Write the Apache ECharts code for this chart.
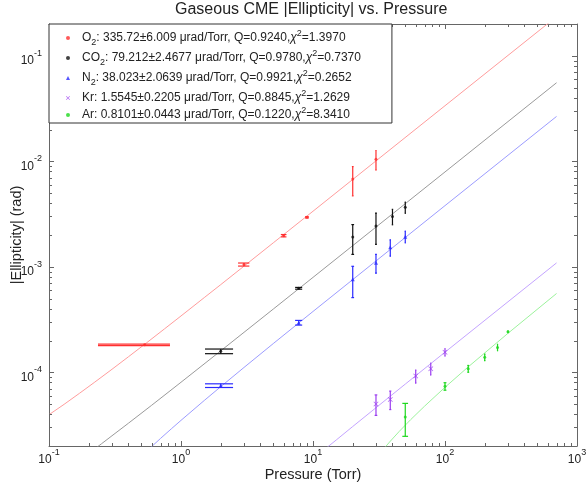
<!DOCTYPE html>
<html><head><meta charset="utf-8">
<script src="https://cdn.jsdelivr.net/npm/echarts@6/dist/echarts.min.js"></script>
<style>html,body{margin:0;padding:0;background:#fff}#c{width:587px;height:488px}</style>
</head><body><div id="c"></div>
<script>
// ---- series names ----
const seriesNames = ['O2', 'CO2', 'N2', 'Kr', 'Ar'];

// ---- tick label values ----
const xTickValues = [0.1, 1, 10, 100, 1000];
const yTickValues = [1e-4, 1e-3, 1e-2, 1e-1];

// ---- measured points (x = pressure Torr, y = |ellipticity| rad, err = y error) ----
const o2X   = [0.53, 3, 6, 9, 20, 30];
const o2Y   = [1.82e-4, 1.05e-3, 1.97e-3, 2.94e-3, 6.8e-3, 1.045e-2];
const o2Err = [3e-6, 3.5e-5, 5e-5, 4e-5, 2.1e-3, 2.2e-3];

const co2X   = [2, 7.8, 20, 30, 40, 50];
const co2Y   = [1.58e-4, 6.25e-4, 1.91e-3, 2.43e-3, 3.0e-3, 3.66e-3];
const co2Err = [8e-6, 1.2e-5, 6e-4, 8e-4, 5e-4, 4.5e-4];

const n2X   = [2, 7.8, 20, 30, 38.5, 50];
const n2Y   = [7.47e-5, 2.95e-4, 7.6e-4, 1.09e-3, 1.53e-3, 1.93e-3];
const n2Err = [3e-6, 1.5e-5, 2.5e-4, 2.2e-4, 2.7e-4, 2.5e-4];

const krX   = [30, 38.5, 60, 78, 100];
const krY   = [5.0e-5, 5.53e-5, 9.2e-5, 1.08e-4, 1.55e-4];
const krErr = [1.1e-5, 1.1e-5, 1.3e-5, 1.4e-5, 1.3e-5];

const arX   = [50, 100, 150, 200, 250, 300];
const arY   = [3.77e-5, 7.36e-5, 1.08e-4, 1.39e-4, 1.72e-4, 2.42e-4];
const arErr = [1.3e-5, 6e-6, 8e-6, 1e-5, 1.2e-5, 5e-6];

// error-bar cap half widths (Torr), one per series
const capHalf = [0.295, 0.48, 0.48, 0.7, 2.5];

// ---- fit lines ----
const o2FitX = [0.1, 0.13, 0.17, 0.22, 0.3, 0.4, 0.55, 0.75, 1, 1.5, 2, 3, 5, 10, 30, 100, 700];
const o2FitY = [3.96e-5, 4.96e-5, 6.31e-5, 7.99e-5, 1.067e-4, 1.403e-4, 1.906e-4, 2.578e-4, 3.417e-4, 5.1e-4, 6.77e-4, 1.013e-3, 1.685e-3, 3.36e-3, 1.008e-2, 3.36e-2, 0.235];
const co2FitX = [0.2, 0.25, 0.3, 0.4, 0.6, 1, 2, 5, 10, 100, 700];
const co2FitY = [1.70e-5, 2.10e-5, 2.50e-5, 3.29e-5, 4.87e-5, 8.04e-5, 1.596e-4, 3.97e-4, 7.93e-4, 7.92e-3, 5.55e-2];
const n2FitX = [0.55, 0.7, 0.85, 1, 1.5, 2, 3, 5, 10, 100, 700];
const n2FitY = [1.79e-5, 2.36e-5, 2.93e-5, 3.5e-5, 5.4e-5, 7.3e-5, 1.11e-4, 1.87e-4, 3.77e-4, 3.797e-3, 2.66e-2];
const krFitX = [12, 15, 20, 30, 50, 100, 700];
const krFitY = [1.82e-5, 2.28e-5, 3.06e-5, 4.61e-5, 7.72e-5, 1.55e-4, 1.088e-3];
const arFitX = [34, 38, 45, 55, 70, 100, 150, 300, 700];
const arFitY = [1.85e-5, 2.18e-5, 2.75e-5, 3.56e-5, 4.77e-5, 7.2e-5, 1.125e-4, 2.34e-4, 5.58e-4];

// ---- legend texts ----
const legendTexts = {
  O2:  '{t|O}{sub|2}{t|: 335.72±6.009 μrad/Torr, Q=0.9240,}{chi|χ}{sup|2}{t|=1.3970}',
  CO2: '{t|CO}{sub|2}{t|: 79.212±2.4677 μrad/Torr, Q=0.9780,}{chi|χ}{sup|2}{t|=0.7370}',
  N2:  '{t|N}{sub|2}{t|: 38.023±2.0639 μrad/Torr, Q=0.9921,}{chi|χ}{sup|2}{t|=0.2652}',
  Kr:  '{t|Kr: 1.5545±0.2205 μrad/Torr, Q=0.8845,}{chi|χ}{sup|2}{t|=1.2629}',
  Ar:  '{t|Ar: 0.8101±0.0443 μrad/Torr, Q=0.1220,}{chi|χ}{sup|2}{t|=8.3410}'
};

// ---- axis ranges ----
const xMin = 0.1, xMax = 1000, yMin = 2e-5, yMax = 0.2;

// ---- styles ----
const pointColors = ['#ff3030', '#111111', '#2a2aff', '#9a3cf0', '#1ed81e'];
const lineColors  = ['#ff9c9c', '#9a9a9a', '#9c9cff', '#c4a4ff', '#9cf29c'];
const symbols = ['circle', 'circle', 'triangle',
  'path://M0,1L1,0L5,4L9,0L10,1L6,5L10,9L9,10L5,6L1,10L0,9L4,5Z', 'circle'];
const symbolSizes = [3, 3, 4, 5, 3];
const FONT = 'Liberation Sans, Arial, sans-serif';
const AX = '#666';

const zip = (a, b) => a.map((v, i) => [v, b[i]]);
const zip3 = (a, b, c) => a.map((v, i) => [v, b[i], c[i]]);

const pts = [[o2X, o2Y, o2Err], [co2X, co2Y, co2Err], [n2X, n2Y, n2Err], [krX, krY, krErr], [arX, arY, arErr]];
const fits = [[o2FitX, o2FitY], [co2FitX, co2FitY], [n2FitX, n2FitY], [krFitX, krFitY], [arFitX, arFitY]];

// minor ticks (2..9 per decade)
const xMinor = [], yMinor = [];
for (let d = -1; d < 3; d++) for (let m = 2; m <= 9; m++) xMinor.push(m * Math.pow(10, d));
for (let d = -5; d < 0; d++) for (let m = 2; m <= 9; m++) {
  const v = m * Math.pow(10, d);
  if (v > yMin * 1.0001 && v < yMax * 0.9999) yMinor.push(v);
}

function expText(v) {
  return '{b|10}{s|' + Math.round(Math.log10(v)) + '}';
}
const labelRich = {
  b: { fontSize: 12, fontFamily: FONT, fill: '#222', lineHeight: 18, verticalAlign: 'bottom' },
  s: { fontSize: 9, fontFamily: FONT, fill: '#222', lineHeight: 10, verticalAlign: 'top' }
};

function axisBase(pos, min, max) {
  return {
    type: 'log', logBase: 10, min: min, max: max, position: pos,
    axisLine: { show: true, onZero: false, lineStyle: { color: AX, width: 1 } },
    axisTick: { show: true, inside: true, length: 5, lineStyle: { color: AX } },
    axisLabel: { show: false },
    splitLine: { show: false },
    minorTick: { show: false }
  };
}

const xAxes = [axisBase('bottom', xMin, xMax), axisBase('top', xMin, xMax)];
xAxes[0].name = 'Pressure (Torr)';
xAxes[0].nameLocation = 'middle';
xAxes[0].nameGap = 21;
xAxes[0].nameTextStyle = { fontSize: 14.5, fontFamily: FONT, color: '#222' };
const yAxes = [axisBase('left', yMin, yMax), axisBase('right', yMin, yMax)];
yAxes[0].name = '|Ellipticity| (rad)';
yAxes[0].nameLocation = 'middle';
yAxes[0].nameGap = 25;
yAxes[0].nameTextStyle = { fontSize: 14.5, fontFamily: FONT, color: '#222' };

const series = [];
// fit lines
fits.forEach((f, i) => {
  series.push({
    type: 'line', name: seriesNames[i] + ' fit', data: zip(f[0], f[1]),
    xAxisIndex: 0, yAxisIndex: 0, symbol: 'none', showSymbol: false, clip: true, silent: true,
    lineStyle: { color: lineColors[i], width: 1 }, z: 1
  });
});
// error bars
pts.forEach((p, i) => {
  const tee = capHalf[i];
  series.push({
    type: 'custom', name: seriesNames[i] + ' err', xAxisIndex: 0, yAxisIndex: 0, clip: true, silent: true, z: 2,
    data: zip3(p[0], p[1], p[2]),
    renderItem: function (params, api) {
      const x = api.value(0), y = api.value(1), e = api.value(2);
      const top = api.coord([x, y + e]), bot = api.coord([x, y - e]);
      const lT = api.coord([x - tee, y + e]), rT = api.coord([x + tee, y + e]);
      const lB = api.coord([x - tee, y - e]), rB = api.coord([x + tee, y - e]);
      const st = { stroke: pointColors[i], lineWidth: 1.2 };
      return { type: 'group', children: [
        { type: 'line', shape: { x1: top[0], y1: top[1], x2: bot[0], y2: bot[1] }, style: st },
        { type: 'line', shape: { x1: lT[0], y1: lT[1], x2: rT[0], y2: rT[1] }, style: st },
        { type: 'line', shape: { x1: lB[0], y1: lB[1], x2: rB[0], y2: rB[1] }, style: st }
      ]};
    }
  });
});
// points
pts.forEach((p, i) => {
  series.push({
    type: 'scatter', name: seriesNames[i], data: zip(p[0], p[1]), xAxisIndex: 0, yAxisIndex: 0,
    symbol: symbols[i], symbolSize: symbolSizes[i], itemStyle: { color: pointColors[i] }, z: 3, silent: true
  });
});
// minor ticks
series.push({
  type: 'custom', name: 'xminor', xAxisIndex: 0, yAxisIndex: 0, clip: false, silent: true, z: 2,
  data: xMinor.map(v => [v, 1e-3]),
  renderItem: function (params, api) {
    const cs = params.coordSys;
    const px = Math.round(api.coord([api.value(0), 1e-3])[0]) + 0.5;
    const st = { stroke: AX, lineWidth: 1 };
    return { type: 'group', children: [
      { type: 'line', shape: { x1: px, y1: cs.y + cs.height, x2: px, y2: cs.y + cs.height - 3 }, style: st },
      { type: 'line', shape: { x1: px, y1: cs.y, x2: px, y2: cs.y + 3 }, style: st }
    ]};
  }
});
series.push({
  type: 'custom', name: 'yminor', xAxisIndex: 0, yAxisIndex: 0, clip: false, silent: true, z: 2,
  data: yMinor.map(v => [1, v]),
  renderItem: function (params, api) {
    const cs = params.coordSys;
    const py = Math.round(api.coord([1, api.value(1)])[1]) + 0.5;
    const st = { stroke: AX, lineWidth: 1 };
    return { type: 'group', children: [
      { type: 'line', shape: { x1: cs.x, y1: py, x2: cs.x + 3, y2: py }, style: st },
      { type: 'line', shape: { x1: cs.x + cs.width, y1: py, x2: cs.x + cs.width - 3, y2: py }, style: st }
    ]};
  }
});
// tick labels (positions from the axis scales)
series.push({
  type: 'custom', name: 'xlabels', xAxisIndex: 0, yAxisIndex: 0, clip: false, silent: true, z: 2,
  data: xTickValues.map(v => [v, 1e-3]),
  renderItem: function (params, api) {
    const cs = params.coordSys;
    const px = api.coord([api.value(0), 1e-3])[0];
    return { type: 'text', x: px, y: cs.y + cs.height + 2,
      style: { text: expText(api.value(0)), rich: labelRich, align: 'center', verticalAlign: 'top',
        fontFamily: FONT, fontSize: 12, fill: '#222' } };
  }
});
series.push({
  type: 'custom', name: 'ylabels', xAxisIndex: 0, yAxisIndex: 0, clip: false, silent: true, z: 2,
  data: yTickValues.map(v => [1, v]),
  renderItem: function (params, api) {
    const cs = params.coordSys;
    const py = api.coord([1, api.value(1)])[1];
    return { type: 'text', x: cs.x - 7, y: py + 2,
      style: { text: expText(api.value(1)), rich: labelRich, align: 'right', verticalAlign: 'middle',
        fontFamily: FONT, fontSize: 12, fill: '#222' } };
  }
});

const chart = echarts.init(document.getElementById('c'), null, { renderer: 'canvas' });
chart.setOption({
  animation: false,
  backgroundColor: '#fff',
  title: { text: 'Gaseous CME |Ellipticity| vs. Pressure', left: 170, top: -3,
    textStyle: { fontSize: 16, fontWeight: 'normal', fontFamily: FONT, color: '#222' } },
  grid: { left: 49, right: 10, top: 24, bottom: 42, containLabel: false },
  xAxis: xAxes,
  yAxis: yAxes,
  legend: {
    orient: 'vertical', left: 49, top: 24, padding: [5, 31, 2, 17], itemGap: 2, z: 20,
    itemWidth: 4, itemHeight: 4, borderColor: '#333', borderWidth: 1, backgroundColor: '#fff',
    selectedMode: false,
    data: seriesNames.map((n, i) => ({ name: n, icon: symbols[i] })),
    formatter: n => legendTexts[n],
    textStyle: { fontSize: 12, fontFamily: FONT, color: '#222', padding: [0, 0, 0, 7],
      rich: {
        t: { fontSize: 12, fontFamily: FONT, color: '#222', lineHeight: 18 },
        chi: { fontSize: 12, fontFamily: FONT, color: '#222', lineHeight: 18, fontStyle: 'italic' },
        sub: { fontSize: 9, fontFamily: FONT, color: '#222', lineHeight: 8, verticalAlign: 'bottom' },
        sup: { fontSize: 9, fontFamily: FONT, color: '#222', lineHeight: 8, verticalAlign: 'top' }
      } }
  },
  series: series
});
</script></body></html>
